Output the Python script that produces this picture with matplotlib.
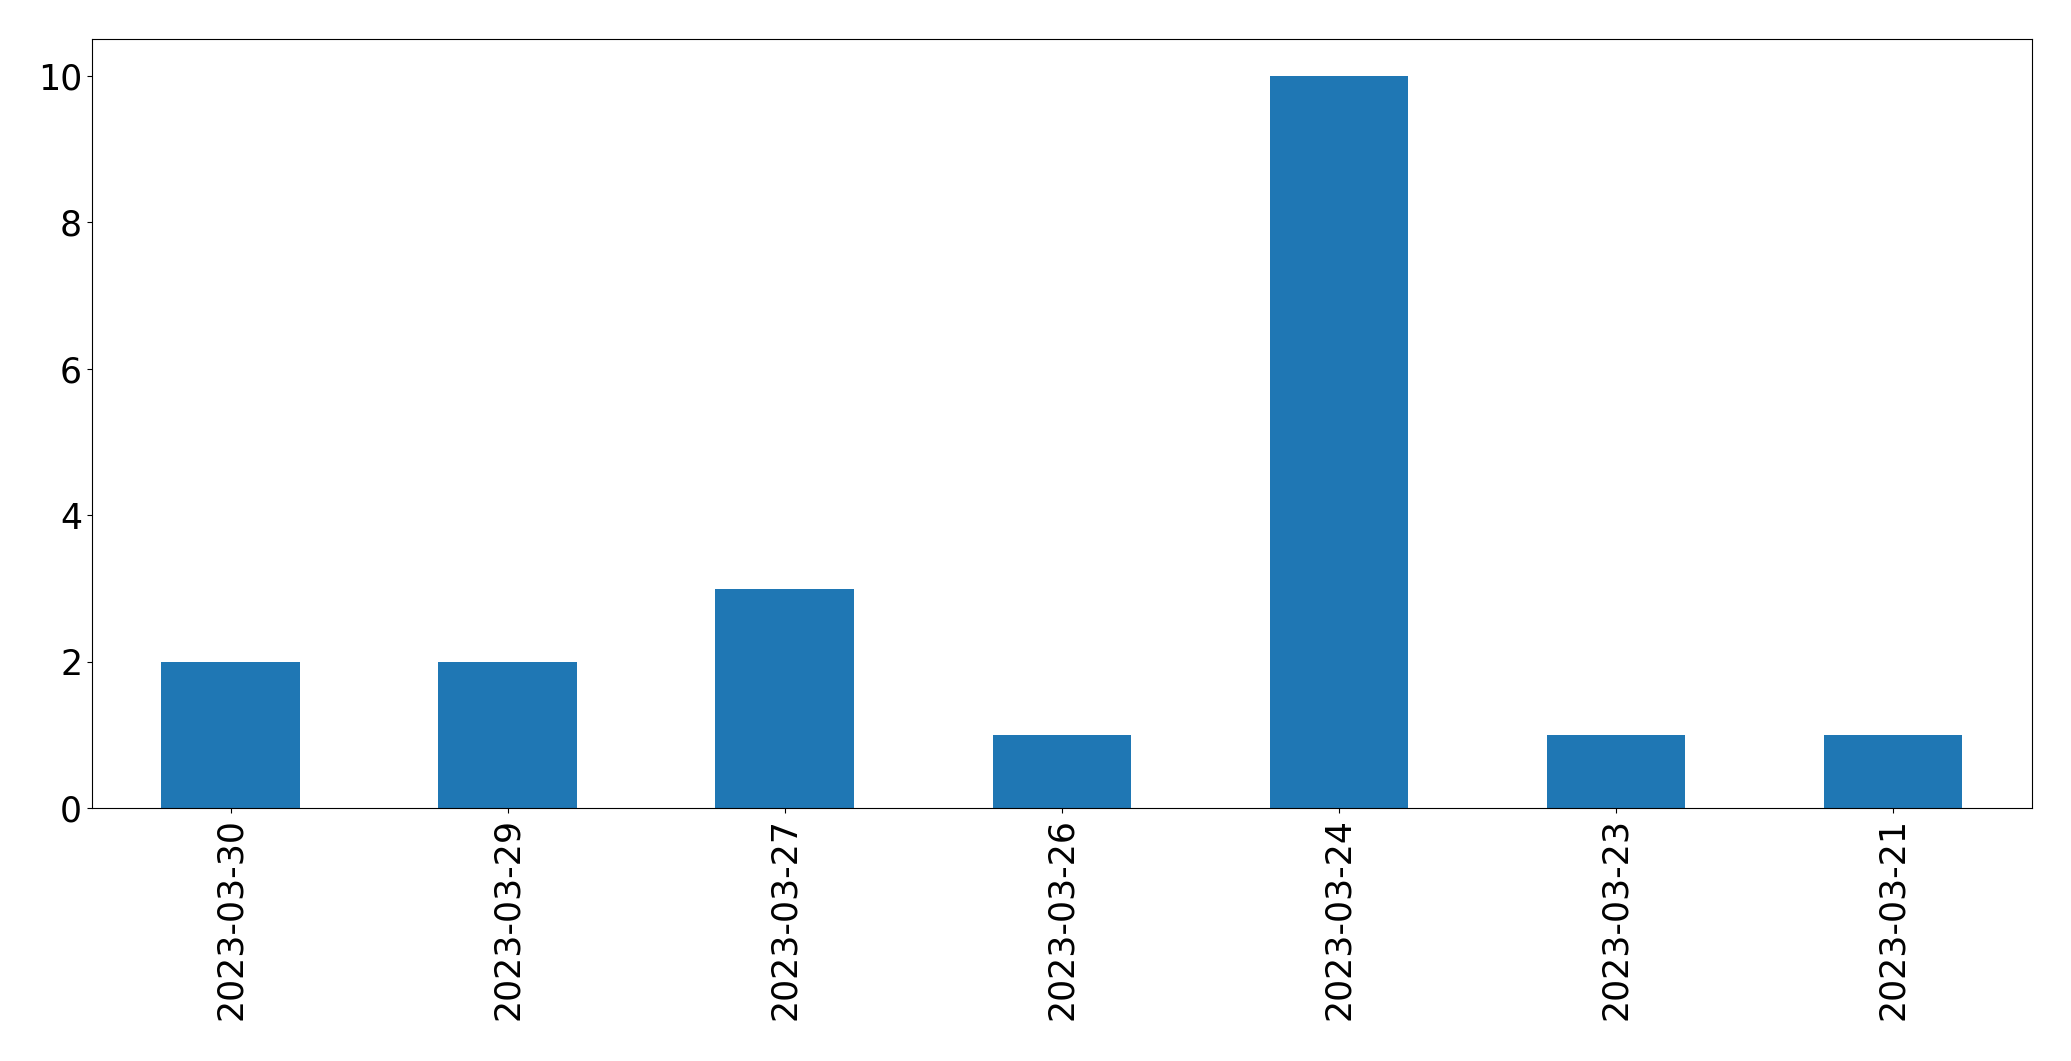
import matplotlib
matplotlib.use('Agg')
import pandas as pd
import matplotlib.pyplot as plt

dates = ['2023-03-30', '2023-03-29', '2023-03-27', '2023-03-26',
         '2023-03-24', '2023-03-23', '2023-03-21']
counts = [2, 2, 3, 1, 10, 1, 1]

plt.rcParams['font.size'] = 25

s = pd.Series(counts, index=dates)

fig, ax = plt.subplots(figsize=(20.71, 10.61), dpi=100)
s.plot(kind='bar', ax=ax, color='#1f77b4')
plt.subplots_adjust(left=0.0444, right=0.981, top=0.963, bottom=0.238)
fig.savefig('out.png', dpi=100)
